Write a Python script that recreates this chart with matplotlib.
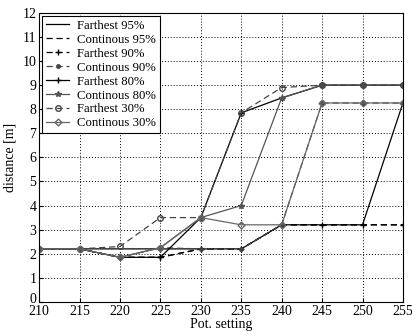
import matplotlib
matplotlib.use('Agg')
import matplotlib.pyplot as plt
from matplotlib.transforms import ScaledTranslation

plt.rcParams['font.family'] = ['Liberation Serif', 'DejaVu Serif']

# Pot. setting values on the x axis
pot = [210, 215, 220, 225, 230, 235, 240, 245, 250, 255]

# distance [m] for every series
farthest_95 = [2.2, 2.2, 2.2, 2.2, 2.2, 2.2, 3.2, 3.2, 3.2, 8.26]
continous_95 = [2.2, 2.2, 1.85, 1.85, 2.2, 2.2, 3.2, 3.2, 3.2, 3.2]
farthest_90 = [2.2, 2.2, 1.85, 1.85, 2.2, 2.2, 3.2, 3.2, 3.2, 3.2]
continous_90 = [2.2, 2.2, 1.85, 2.25, 2.2, 2.2, 3.2, 8.26, 8.26, 8.26]
farthest_80 = [2.2, 2.2, 1.85, 1.85, 3.5, 7.85, 8.47, 9.0, 9.0, 9.0]
continous_80 = [2.2, 2.2, 1.85, 2.25, 3.5, 4.0, 8.47, 9.0, 9.0, 9.0]
farthest_30 = [2.2, 2.2, 2.3, 3.5, 3.5, 7.85, 8.9, 9.0, 9.0, 9.0]
continous_30 = [2.2, 2.2, 1.85, 2.25, 3.5, 3.2, 3.2, 8.26, 8.26, 8.26]

fig = plt.figure(figsize=(4.12, 3.31), dpi=100)
ax = fig.add_axes([0.095, 0.088, 0.883, 0.873])

ms = 4
dash = (5, 3)
ax.plot(pot, farthest_95, '-', color='black', lw=0.9, label='Farthest 95%')
ax.plot(pot, continous_95, '--', dashes=dash, color='black', lw=0.9, label='Continous 95%')
ax.plot(pot, farthest_90, '--', dashes=dash, marker='+', ms=ms, color='black', lw=0.9, label='Farthest 90%')
ax.plot(pot, continous_90, '--', dashes=dash, marker='.', ms=ms + 1, color='#444444', lw=0.9, label='Continous 90%')
ax.plot(pot, farthest_80, '-', marker='+', ms=ms, color='black', lw=0.9, label='Farthest 80%')
ax.plot(pot, continous_80, '-', marker='*', ms=ms, color='#555555', lw=0.9, label='Continous 80%')
ax.plot(pot, farthest_30, '--', dashes=dash, marker='o', ms=ms, mfc='none', color='#444444', lw=0.9, label='Farthest 30%')
ax.plot(pot, continous_30, '-', marker='D', ms=ms - 0.5, mfc='none', color='#666666', lw=0.9, label='Continous 30%')

ax.set_xlim(210, 255)
ax.set_ylim(0, 12)
ax.set_xticks(range(210, 256, 5))
ax.set_yticks(range(0, 13))
ax.grid(True, linestyle=(0, (1, 2)), color='black', linewidth=0.7)
ax.tick_params(direction='in', labelsize=10, length=3)
ax.tick_params(axis='x', pad=2)
ax.tick_params(axis='y', pad=2)
for s in ax.spines.values():
    s.set_linewidth(0.8)

# nudge the "0" label up a little so it does not touch "210"
fig.canvas.draw()
zero = ax.get_yticklabels()[0]
zero.set_transform(zero.get_transform() + ScaledTranslation(0, 3 / 72, fig.dpi_scale_trans))

ax.set_xlabel('Pot. setting', fontsize=10, labelpad=0)
ax.set_ylabel('distance [m]', fontsize=10, labelpad=4)

leg = ax.legend(loc='upper left', fontsize=9.2, frameon=True, fancybox=False,
                edgecolor='black', framealpha=1, handlelength=1.8, handletextpad=0.6,
                borderpad=0.3, labelspacing=0.15, borderaxespad=0.25)
leg.get_frame().set_linewidth(0.8)

fig.savefig('out.png', dpi=100)
